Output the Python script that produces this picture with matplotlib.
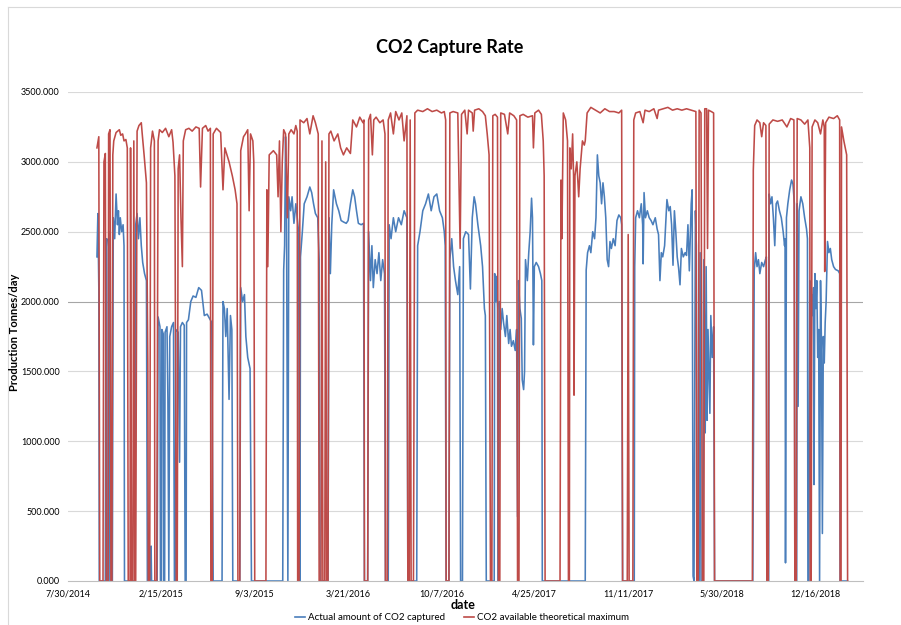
import numpy as np
import pandas as pd
import matplotlib
matplotlib.use("Agg")
import matplotlib.pyplot as plt
from matplotlib.lines import Line2D

plt.rcParams['font.family'] = ['Lato', 'DejaVu Sans']

start = pd.Timestamp('2014-07-30')
tick_days = [0, 200, 400, 600, 800, 1000, 1200, 1400, 1600]
y_ticks = [0, 500, 1000, 1500, 2000, 2500, 3000, 3500]

# (days after 7/30/2014, tonnes/day)
theoretical_max = [
    (62, 3100), (66, 3180), (68, 0), (75, 0), (77, 3000), (80, 3060), (82, 0), (86, 0), (87, 3200), (90, 3230),
    (92, 0), (94, 0), (96, 3050), (98, 3150), (103, 3210), (110, 3230), (113, 3190), (117, 3200), (120, 3150),
    (124, 3160), (127, 3100), (129, 0), (133, 0), (134, 3100), (136, 0), (139, 0), (141, 3150), (143, 0), (145, 0),
    (148, 3220), (152, 3260), (157, 3280), (159, 3200), (163, 3050), (168, 2850), (171, 1550), (172, 0), (175, 0),
    (177, 3100), (181, 3220), (185, 3150), (186, 0), (190, 0), (193, 3150), (196, 3230), (202, 3210), (209, 3240),
    (216, 3180), (222, 3230), (225, 3140), (229, 2900), (232, 0), (234, 0), (236, 2950), (239, 3050), (242, 2600),
    (245, 2250), (247, 3150), (252, 3230), (259, 3240), (266, 3220), (274, 3250), (281, 3240), (284, 2820),
    (288, 3240), (295, 3260), (300, 3220), (305, 3240), (306, 0), (309, 0), (311, 3200), (318, 3240), (327, 3210),
    (332, 2800), (336, 3100), (345, 3000), (352, 2900), (358, 2800), (362, 2700), (364, 0), (368, 0), (370, 3080),
    (376, 3180), (380, 3200), (385, 3230), (388, 2650), (391, 3200), (396, 3150), (398, 3000), (400, 0), (424, 0),
    (426, 2800), (428, 2250), (431, 3050), (440, 3080), (447, 3050), (450, 2750), (453, 3150), (456, 2500),
    (459, 3000), (462, 3230), (466, 3200), (470, 2600), (473, 3200), (478, 3230), (484, 3200), (488, 3260),
    (491, 3220), (492, 0), (495, 0), (497, 3300), (505, 3280), (512, 3310), (518, 3200), (525, 3330), (530, 3280),
    (536, 3200), (538, 0), (542, 0), (544, 3150), (546, 0), (550, 0), (552, 3000), (554, 0), (557, 0), (559, 3200),
    (563, 3220), (570, 3150), (578, 3200), (584, 3100), (590, 3050), (597, 3100), (605, 3060), (610, 3300),
    (618, 3250), (625, 3320), (632, 3280), (634, 3300), (635, 0), (642, 0), (644, 3300), (648, 3340), (652, 3050),
    (655, 3300), (660, 3320), (668, 3280), (675, 3300), (679, 3200), (680, 0), (684, 0), (686, 3300), (691, 3350),
    (697, 3200), (702, 3360), (709, 3300), (715, 3350), (720, 3150), (726, 3330), (728, 0), (731, 0), (733, 3300),
    (735, 0), (740, 0), (743, 3350), (749, 3370), (760, 3360), (770, 3380), (780, 3360), (790, 3370), (800, 3350),
    (806, 3360), (809, 3300), (810, 0), (816, 0), (818, 3350), (825, 3360), (835, 3350), (840, 2380), (843, 3340),
    (850, 3370), (855, 3200), (858, 3370), (866, 3350), (868, 3220), (871, 3370), (880, 3380), (888, 3360),
    (894, 3330), (898, 3200), (902, 3050), (905, 0), (908, 0), (910, 3330), (915, 3340), (920, 3320), (922, 0),
    (925, 0), (927, 3350), (935, 3340), (942, 3200), (946, 3350), (955, 3330), (961, 3300), (963, 0), (966, 0),
    (968, 3330), (975, 3340), (985, 3320), (995, 3330), (997, 3100), (1000, 3350), (1008, 3370), (1014, 3340),
    (1018, 3150), (1020, 2900), (1022, 0), (1054, 0), (1056, 2870), (1058, 2450), (1061, 3350), (1066, 3300),
    (1070, 3150), (1072, 0), (1074, 0), (1075, 3100), (1078, 2950), (1081, 3200), (1083, 2900), (1084, 1330),
    (1086, 2900), (1090, 3000), (1094, 2750), (1097, 2950), (1102, 3150), (1106, 3120), (1108, 3150), (1112, 3350),
    (1120, 3390), (1130, 3370), (1140, 3350), (1150, 3380), (1160, 3360), (1170, 3360), (1180, 3350), (1186, 3370),
    (1188, 0), (1198, 0), (1200, 2480), (1202, 0), (1210, 0), (1212, 3300), (1216, 3350), (1225, 3360), (1232, 3280),
    (1236, 3370), (1245, 3360), (1255, 3380), (1262, 3310), (1265, 3370), (1275, 3380), (1285, 3390), (1295, 3370),
    (1305, 3380), (1315, 3370), (1325, 3380), (1335, 3370), (1345, 3360), (1347, 0), (1350, 0), (1352, 3370),
    (1356, 3350), (1359, 0), (1362, 0), (1364, 3380), (1368, 3380), (1370, 2380), (1372, 3370), (1378, 3360),
    (1383, 3350), (1385, 0), (1466, 0), (1468, 2940), (1471, 3260), (1476, 3300), (1482, 3280), (1486, 3180),
    (1490, 3280), (1495, 3260), (1497, 0), (1500, 0), (1502, 3270), (1510, 3300), (1520, 3290), (1530, 3300),
    (1540, 3250), (1548, 3310), (1555, 3300), (1557, 0), (1560, 0), (1562, 3310), (1570, 3300), (1578, 3270),
    (1585, 3300), (1589, 3100), (1590, 0), (1592, 0), (1594, 3250), (1600, 3300), (1606, 3280), (1612, 3200),
    (1617, 3300), (1620, 3250), (1621, 2215), (1623, 3280), (1630, 3320), (1640, 3310), (1648, 3330), (1653, 3300),
    (1654, 0), (1656, 0), (1657, 3250), (1662, 3150), (1665, 3100), (1668, 3050), (1670, 0),
]

actual_captured = [
    (62, 2320), (64, 2630), (66, 2100), (67, 0), (80, 0), (81, 2350), (83, 2450), (84, 0), (88, 0), (90, 2500),
    (92, 0), (95, 0), (97, 2600), (100, 2450), (103, 2770), (106, 2550), (108, 2650), (110, 2480), (112, 2600),
    (115, 2500), (118, 2550), (120, 2400), (121, 0), (144, 0), (145, 2550), (148, 2630), (151, 2450), (154, 2600),
    (157, 2400), (160, 2280), (164, 2200), (168, 2150), (170, 0), (176, 0), (178, 250), (179, 0), (191, 0),
    (193, 1890), (197, 1820), (198, 0), (200, 0), (201, 1800), (204, 1770), (205, 0), (207, 0), (208, 1780),
    (212, 1820), (214, 1300), (216, 0), (218, 1750), (222, 1820), (226, 1850), (228, 0), (230, 0), (231, 1800),
    (236, 1780), (239, 850), (241, 1820), (245, 1850), (249, 1830), (251, 0), (253, 0), (254, 1850), (258, 1870),
    (263, 2000), (268, 2040), (274, 2030), (280, 2100), (286, 2080), (292, 1900), (298, 1910), (303, 1880),
    (308, 1850), (311, 0), (330, 0), (332, 2000), (335, 1950), (338, 1750), (341, 1950), (345, 1300), (348, 1900),
    (351, 1800), (353, 0), (368, 0), (370, 2100), (374, 2000), (378, 2050), (381, 1750), (385, 1600), (390, 1520),
    (393, 0), (460, 0), (462, 2225), (464, 2400), (466, 3180), (468, 2700), (471, 0), (473, 2750), (477, 2650),
    (480, 2750), (484, 2560), (488, 2700), (491, 2600), (494, 2500), (496, 0), (497, 0), (498, 2320), (502, 2500),
    (506, 2700), (512, 2750), (518, 2820), (522, 2780), (526, 2700), (530, 2630), (535, 2600), (538, 2300),
    (540, 0), (557, 0), (559, 2600), (562, 2200), (565, 2550), (569, 2800), (575, 2700), (580, 2650), (585, 2580),
    (590, 2570), (596, 2560), (600, 2580), (605, 2700), (610, 2800), (614, 2750), (618, 2650), (622, 2560),
    (628, 2550), (633, 2560), (635, 0), (642, 0), (644, 2500), (648, 2150), (651, 2400), (654, 2100), (658, 2300),
    (662, 2200), (666, 2350), (670, 2150), (674, 2300), (678, 2200), (680, 0), (686, 0), (688, 2550), (692, 2450),
    (697, 2600), (702, 2500), (708, 2600), (714, 2550), (720, 2650), (726, 2600), (728, 0), (747, 0), (749, 2400),
    (754, 2500), (760, 2650), (766, 2700), (772, 2770), (778, 2650), (784, 2750), (790, 2770), (796, 2650),
    (802, 2600), (806, 2500), (808, 2400), (810, 0), (816, 0), (818, 2300), (822, 2450), (826, 2250), (830, 2150),
    (835, 2050), (839, 2250), (841, 0), (845, 0), (847, 2450), (852, 2500), (858, 2480), (862, 2090), (866, 2600),
    (870, 2750), (873, 2700), (878, 2550), (884, 2400), (888, 2250), (892, 1950), (894, 1900), (896, 0), (913, 0),
    (914, 2200), (916, 2000), (918, 2180), (920, 1950), (921, 0), (923, 0), (924, 2000), (927, 1800), (930, 1950),
    (933, 1850), (937, 1750), (940, 1900), (944, 1700), (947, 1800), (950, 1680), (954, 1720), (958, 1650),
    (961, 1800), (963, 460), (965, 2150), (968, 1950), (971, 1880), (973, 1440), (976, 1370), (978, 1500),
    (980, 2300), (984, 2150), (987, 2350), (990, 2500), (993, 2740), (995, 2600), (997, 1690), (999, 2250),
    (1003, 2280), (1008, 2250), (1012, 2200), (1015, 2150), (1016, 0), (1108, 0), (1110, 2225), (1113, 2350),
    (1117, 2400), (1120, 2350), (1124, 2500), (1128, 2450), (1131, 2600), (1134, 3050), (1137, 2900), (1140, 2850),
    (1143, 2700), (1146, 2850), (1149, 2750), (1152, 2600), (1155, 2300), (1158, 2250), (1161, 2430), (1164, 2380),
    (1168, 2450), (1172, 2400), (1176, 2580), (1180, 2620), (1184, 2600), (1186, 2550), (1188, 0), (1213, 0),
    (1214, 2250), (1216, 2600), (1220, 2650), (1224, 2600), (1228, 2700), (1231, 2550), (1232, 2270), (1234, 2780),
    (1237, 2600), (1241, 2650), (1245, 2600), (1249, 2580), (1253, 2550), (1258, 2600), (1262, 2520), (1265, 2480),
    (1268, 2150), (1271, 2350), (1274, 2320), (1278, 2400), (1283, 2730), (1287, 2650), (1290, 2680), (1293, 2550),
    (1296, 2260), (1299, 2650), (1302, 2500), (1305, 2320), (1308, 2240), (1311, 2120), (1314, 2380), (1318, 2320),
    (1322, 2350), (1325, 2330), (1328, 2550), (1331, 2220), (1335, 2700), (1337, 2800), (1339, 35), (1341, 0),
    (1344, 2650), (1346, 2400), (1348, 0), (1352, 0), (1354, 2350), (1356, 0), (1360, 0), (1362, 2300), (1365, 1060),
    (1367, 2250), (1369, 1150), (1371, 1800), (1375, 1200), (1377, 1900), (1380, 1600), (1383, 1820), (1385, 0),
    (1467, 0), (1468, 770), (1470, 2225), (1473, 2350), (1476, 2250), (1479, 2300), (1482, 2200), (1486, 2280),
    (1490, 2250), (1494, 2300), (1496, 2320), (1497, 0), (1501, 0), (1502, 2770), (1505, 2700), (1508, 2750),
    (1511, 2600), (1514, 2400), (1517, 2700), (1520, 2720), (1524, 2650), (1528, 2600), (1532, 2500), (1535, 2400),
    (1536, 2450), (1537, 130), (1539, 2600), (1542, 2700), (1546, 2800), (1550, 2870), (1553, 2840), (1556, 2700),
    (1557, 0), (1561, 0), (1562, 2700), (1564, 1250), (1566, 2650), (1570, 2750), (1574, 2700), (1578, 2600),
    (1582, 2520), (1584, 2450), (1585, 0), (1587, 0), (1589, 2150), (1591, 1300), (1593, 2050), (1595, 1900),
    (1597, 2100), (1598, 690), (1600, 2200), (1602, 1950), (1604, 2150), (1606, 1600), (1608, 1800), (1610, 0),
    (1612, 2150), (1614, 1700), (1616, 340), (1618, 1750), (1620, 1560), (1622, 1850), (1624, 2000), (1627, 2430),
    (1630, 2350), (1633, 2380), (1636, 2300), (1640, 2250), (1644, 2230), (1650, 2220), (1653, 2200), (1654, 0),
    (1670, 0),
]


def to_series(points):
    d = np.array([p[0] for p in points])
    v = np.array([p[1] for p in points], dtype=float)
    return start + pd.to_timedelta(d, unit='D'), v


blue_x, blue_y = to_series(actual_captured)
red_x, red_y = to_series(theoretical_max)

fig = plt.figure(figsize=(9.01, 6.25), dpi=100)
ax = fig.add_axes([68 / 901, 1 - 581 / 625, (863 - 68) / 901, (581 - 92) / 625])

blue = '#4a7ebb'
red = '#be4b48'
ax.plot(blue_x, blue_y, color=blue, lw=1.15)
ax.plot(red_x, red_y, color=red, lw=1.15)

ax.set_ylim(0, 3500)
ax.set_xlim(start, start + pd.Timedelta(days=1703))
ax.set_yticks(y_ticks)
ax.set_yticklabels(['%.3f' % t for t in y_ticks], fontsize=6.5)
tick_dates = [start + pd.Timedelta(days=d) for d in tick_days]
ax.set_xticks(tick_dates)
ax.set_xticklabels([f'{t.month}/{t.day}/{t.year}' for t in tick_dates], fontsize=6.5)
ax.tick_params(length=0, pad=6)

for t in y_ticks[1:]:
    ax.axhline(t, color='#a6a6a6' if t == 2000 else '#d9d9d9', lw=0.8, zorder=0)
for s in ['top', 'right', 'left']:
    ax.spines[s].set_visible(False)
ax.spines['bottom'].set_color('#bfbfbf')
ax.spines['bottom'].set_linewidth(0.8)

fig.text(450 / 901, 1 - 47 / 625, 'CO2 Capture Rate', ha='center', va='center',
         fontsize=13, fontweight='bold')
fig.text(15 / 901, 1 - 332 / 625, 'Production Tonnes/day', ha='center', va='center',
         rotation=90, fontsize=8, fontweight='bold')
fig.text(463 / 901, 1 - 605 / 625, 'date', ha='center', va='center',
         fontsize=9, fontweight='bold')

handles = [Line2D([], [], color=blue, lw=1.2), Line2D([], [], color=red, lw=1.2)]
fig.legend(handles, ['Actual amount of CO2 captured', 'CO2 available theoretical maximum'],
           loc='center', bbox_to_anchor=(462 / 901, 1 - 618 / 625), ncol=2, frameon=False,
           fontsize=7, handlelength=1.0, handletextpad=0.3, columnspacing=2.0)

fig.add_artist(Line2D([8 / 901, 1], [1 - 7 / 625] * 2, color='#d9d9d9', lw=0.8))
fig.add_artist(Line2D([8 / 901] * 2, [0, 1 - 7 / 625], color='#d9d9d9', lw=0.8))

fig.savefig('out.png', dpi=100)
